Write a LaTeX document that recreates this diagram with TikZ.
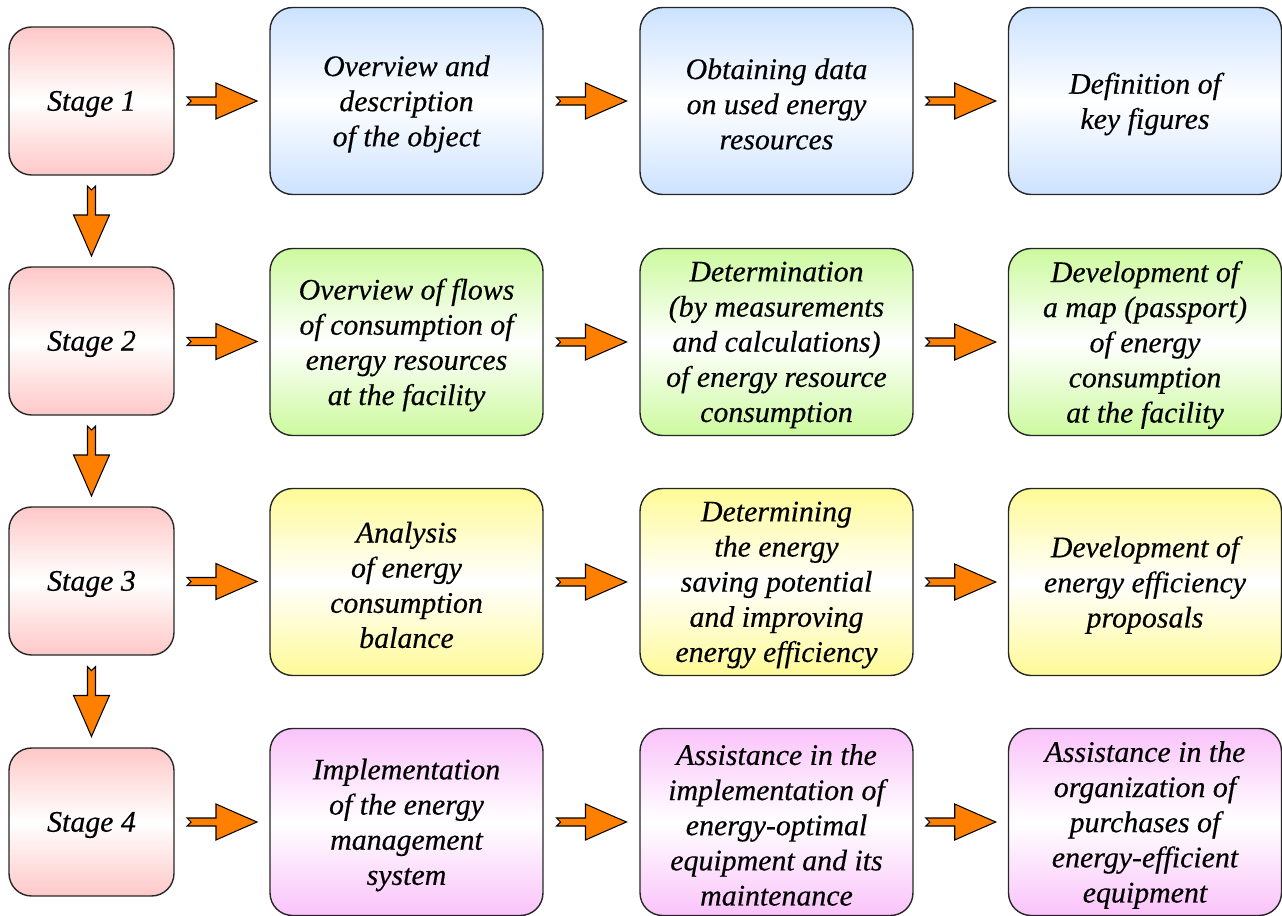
\documentclass[tikz,border=0pt]{standalone}
\usepackage{fontspec}
\setmainfont{LiberationSerif}[
  Extension=.ttf,
  UprightFont=*-Regular,
  ItalicFont=*-Italic,
  BoldFont=*-Bold,
  BoldItalicFont=*-BoldItalic,
  ItalicFeatures={FakeBold=0.4}]
\usetikzlibrary{calc}

\definecolor{stagepink}{RGB}{255,200,200}
\definecolor{rowblue}{RGB}{204,226,255}
\definecolor{rowgreen}{RGB}{204,250,158}
\definecolor{rowyellow}{RGB}{255,250,150}
\definecolor{rowmagenta}{RGB}{250,195,250}
\definecolor{arroworange}{RGB}{255,128,0}

\tikzset{
  box/.style={draw=black!85, line width=0.8pt, rounded corners=0.45cm, inner sep=0pt},
  boxtext/.style={align=center, inner sep=0pt,
    font=\fontsize{17}{20}\selectfont\itshape},
  tint/.style={top color=#1, bottom color=#1, middle color=white},
  stagebox/.style={box, tint=stagepink, minimum width=3.3cm, minimum height=2.96cm},
  infobox/.style={box, minimum width=5.46cm, minimum height=3.74cm},
  pics/flowarrow/.style={code={
    \filldraw[fill=arroworange, draw=black, line width=0.6pt, line join=miter]
      (-35,4) -- (-6,4) -- (-6,18) .. controls (12,10) .. (35,0)
      .. controls (12,-10) .. (-6,-18) -- (-6,-4) -- (-35,-4) -- (-31,0) -- cycle;
  }}
}
% caption of a box, set a little below its centre
\newcommand\boxcaption[2]{\node[boxtext] (#1-text) at ([yshift=-0.06cm]#1.center) {#2};}

\begin{document}
\begin{tikzpicture}[x=0.02cm, y=-0.02cm]
  \useasboundingbox (0,0) rectangle (1282,916);

  % stage column
  \node[stagebox] (s1) at (91.5,101) {};
  \node[stagebox] (s2) at (91.5,341) {};
  \node[stagebox] (s3) at (91.5,581) {};
  \node[stagebox] (s4) at (91.5,822) {};
  \boxcaption{s1}{Stage 1}
  \boxcaption{s2}{Stage 2}
  \boxcaption{s3}{Stage 3}
  \boxcaption{s4}{Stage 4}

  % row 1
  \node[infobox, tint=rowblue] (a1) at (406.5,101) {};
  \node[infobox, tint=rowblue] (a2) at (776.5,101) {};
  \node[infobox, tint=rowblue] (a3) at (1145,101) {};
  \boxcaption{a1}{Overview and\\description\\of the object}
  \boxcaption{a2}{Obtaining data\\on used energy\\resources}
  \boxcaption{a3}{Definition of\\key figures}

  % row 2
  \node[infobox, tint=rowgreen] (b1) at (406.5,342) {};
  \node[infobox, tint=rowgreen] (b2) at (776.5,342) {};
  \node[infobox, tint=rowgreen] (b3) at (1145,342) {};
  \boxcaption{b1}{Overview of flows\\of consumption of\\energy resources\\at the facility}
  \boxcaption{b2}{Determination\\(by measurements\\and calculations)\\of energy resource\\consumption}
  \boxcaption{b3}{Development of\\a map (passport)\\of energy\\consumption\\at the facility}

  % row 3
  \node[infobox, tint=rowyellow] (c1) at (406.5,582) {};
  \node[infobox, tint=rowyellow] (c2) at (776.5,582) {};
  \node[infobox, tint=rowyellow] (c3) at (1145,582) {};
  \boxcaption{c1}{Analysis\\of energy\\consumption\\balance}
  \boxcaption{c2}{Determining\\the energy\\saving potential\\and improving\\energy efficiency}
  \boxcaption{c3}{Development of\\energy efficiency\\proposals}

  % row 4
  \node[infobox, tint=rowmagenta] (d1) at (406.5,822) {};
  \node[infobox, tint=rowmagenta] (d2) at (776.5,822) {};
  \node[infobox, tint=rowmagenta] (d3) at (1145,822) {};
  \boxcaption{d1}{Implementation\\of the energy\\management\\system}
  \boxcaption{d2}{Assistance in the\\implementation of\\energy-optimal\\equipment and its\\maintenance}
  \boxcaption{d3}{Assistance in the\\organization of\\purchases of\\energy-efficient\\equipment}

  % horizontal flow arrows
  \foreach \l/\r in {s1/a1, s2/b1, s3/c1, s4/d1,
                     a1/a2, a2/a3, b1/b2, b2/b3, c1/c2, c2/c3, d1/d2, d2/d3} {
    \path ($(\l.east)!0.5!(\r.west)$) pic {flowarrow};
  }

  % vertical flow arrows between stages
  \foreach \u/\v in {s1/s2, s2/s3, s3/s4} {
    \path ($(\u.south)!0.5!(\v.north)$) pic[rotate=-90] {flowarrow};
  }
\end{tikzpicture}
\end{document}
